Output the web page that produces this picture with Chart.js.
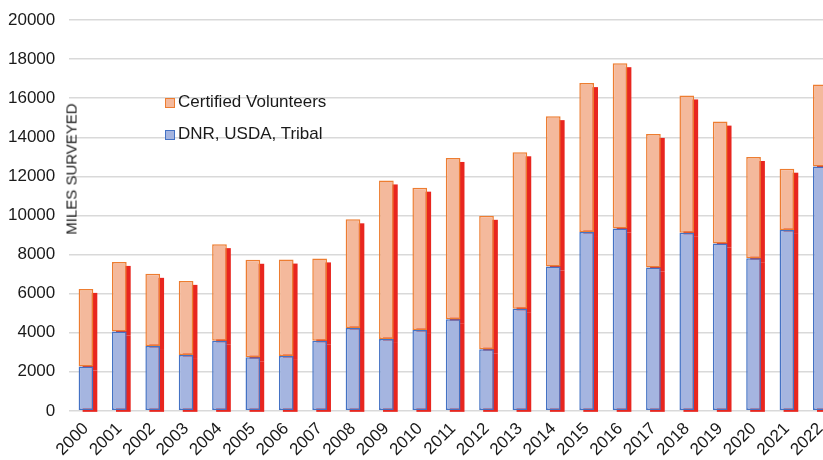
<!DOCTYPE html>
<html>
<head>
<meta charset="utf-8">
<script src="https://cdn.jsdelivr.net/npm/chart.js@4/dist/chart.umd.min.js"></script>
<style>
  html, body { margin: 0; padding: 0; background: #fff; overflow: hidden; }
  #wrap { position: relative; width: 840px; height: 460px; }
  .legend { position: absolute; left: 165px; top: 0; font: 17px 'Liberation Sans', Arial, sans-serif; color: #1a1a1a; }
  .legend div { position: absolute; left: 0; white-space: nowrap; height: 20px; line-height: 20px; }
  .legend span.sw { display: inline-block; width: 8px; height: 8px; border: 1.5px solid; margin-right: 3px; vertical-align: -1px; }
  #ytitle { position: absolute; left: 71px; top: 169px; transform: translate(-50%, -50%) rotate(-90deg);
    font: 15px 'Liberation Sans', Arial, sans-serif; color: #1a1a1a; white-space: nowrap; }
</style>
</head>
<body>
<div id="wrap">
  <canvas id="chart" width="840" height="460"></canvas>
  <div id="ytitle">MILES SURVEYED</div>
  <div class="legend">
    <div style="top:92px"><span class="sw" style="background:#f4b99c;border-color:#ed7d31"></span>Certified Volunteers</div>
    <div style="top:124px"><span class="sw" style="background:#a5b5e0;border-color:#4472c4"></span>DNR, USDA, Tribal</div>
  </div>
</div>
<script>
// === Miles surveyed by year ===

const YEARS = ['2000', '2001', '2002', '2003', '2004', '2005', '2006', '2007', '2008', '2009', '2010',
  '2011', '2012', '2013', '2014', '2015', '2016', '2017', '2018', '2019', '2020', '2021', '2022'];

const DNR_USDA_TRIBAL = [2270, 4060, 3320, 2860, 3590, 2740, 2810, 3590, 4240, 3680, 4140,
  4690, 3150, 5220, 7390, 9150, 9330, 7330, 9110, 8560, 7810, 9260, 12500];

const CERTIFIED_VOLUNTEERS = [3970, 3560, 3690, 3790, 4940, 4990, 4930, 4210, 5560, 8110, 7280,
  8250, 6830, 8010, 7690, 7620, 8460, 6840, 7030, 6240, 5180, 3130, 4200];

const Y_TICKS = [0, 2000, 4000, 6000, 8000, 10000, 12000, 14000, 16000, 18000, 20000];

const COLORS = {
  blueFill: '#a5b5e0',
  blueEdge: '#4472c4',
  orangeFill: '#f4b99c',
  orangeEdge: '#ed7d31',
  shadow: '#e8261f',
  grid: '#d9d9d9',
  text: '#1a1a1a',
};

const FONT = "'Liberation Sans', Arial, sans-serif";
const Y_TICK_PAD = 14;

// red drop shadow behind every bar, taken from the bar elements themselves
const barShadow = {
  id: 'barShadow',
  beforeDatasetsDraw(chart) {
    const ctx = chart.ctx;
    const off = 4;
    const zero = chart.scales.y.getPixelForValue(0);
    ctx.save();
    ctx.fillStyle = COLORS.shadow;
    chart.data.datasets.forEach((ds, i) => {
      const meta = chart.getDatasetMeta(i);
      meta.data.forEach(bar => {
        const p = bar.getProps(['x', 'y', 'base', 'width'], true);
        const left = p.x - p.width / 2 + off;
        const top = Math.min(p.y, p.base) + off;
        const onAxis = Math.abs(p.base - zero) < 2;
        const bottom = onAxis ? zero + 1 : Math.max(p.y, p.base) + off;
        ctx.fillRect(left, top, p.width, bottom - top);
      });
    });
    ctx.restore();
  },
};

new Chart(document.getElementById('chart'), {
  type: 'bar',
  data: {
    labels: YEARS,
    datasets: [
      {
        label: 'DNR, USDA, Tribal',
        data: DNR_USDA_TRIBAL,
        backgroundColor: COLORS.blueFill,
        borderColor: COLORS.blueEdge,
        borderWidth: 1.5,
        borderSkipped: false,
      },
      {
        label: 'Certified Volunteers',
        data: CERTIFIED_VOLUNTEERS,
        backgroundColor: COLORS.orangeFill,
        borderColor: COLORS.orangeEdge,
        borderWidth: 1.5,
        borderSkipped: false,
      },
    ],
  },
  options: {
    responsive: false,
    animation: false,
    categoryPercentage: 1,
    barPercentage: 0.44,
    layout: { padding: { left: 8, right: 3, top: 20, bottom: 0 } },
    plugins: {
      legend: { display: false },
      tooltip: { enabled: false },
    },
    scales: {
      x: {
        stacked: true,
        grid: { display: false },
        border: { display: false },
        ticks: {
          autoSkip: false,
          minRotation: 45,
          maxRotation: 45,
          padding: 0,
          color: COLORS.text,
          font: { family: FONT, size: 17 },
        },
      },
      y: {
        stacked: true,
        min: 0,
        max: 20000,
        afterBuildTicks: axis => { axis.ticks = Y_TICKS.map(v => ({ value: v })); },
        // the tick padding gets counted twice in the width, take one back out
        afterFit: axis => {
          axis.width -= Y_TICK_PAD;
          axis.paddingTop = 0;
          axis.paddingBottom = 0;
        },
        grid: { color: COLORS.grid, lineWidth: 1.5, drawTicks: false },
        border: { display: false },
        ticks: {
          padding: Y_TICK_PAD,
          color: COLORS.text,
          font: { family: FONT, size: 17 },
          callback: v => String(v),
        },
      },
    },
  },
  plugins: [barShadow],
});
</script>
</body>
</html>
